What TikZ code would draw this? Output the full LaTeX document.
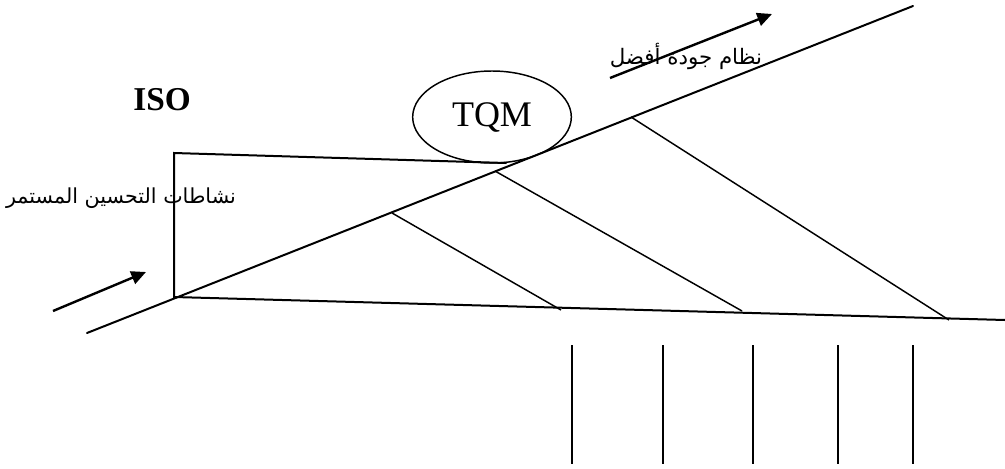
\documentclass[tikz,border=0pt]{standalone}
\usepackage{fontspec}
\setmainfont{Liberation Serif}
\newfontfamily\arabicfont[Script=Arabic]{DejaVu Sans}
\TeXXeTstate=1
\usetikzlibrary{arrows.meta,shapes.geometric}
\tikzset{
  thick line/.style={line width=1.5pt, line cap=round},
  thin line/.style={line width=1.1pt},
  flow arrow/.style={line width=1.8pt, -{Triangle[length=11pt,width=10pt]}},
  artext/.style={inner sep=0pt},
}
\begin{document}
\begin{tikzpicture}[x=0.75pt,y=-0.75pt]
\useasboundingbox (0,0) rectangle (1005,468);
% key points
\coordinate (mainA) at (87,333);
\coordinate (mainB) at (913,6);
\coordinate (boxTL) at (174,153);
\coordinate (boxBL) at (174,297);
\coordinate (boxTR) at (506,163);
\coordinate (baseR) at (1005,320);
% main incline
\draw[thick line] (mainA) -- (mainB);
% box
\draw[thick line] (boxTR) -- (boxTL) -- (boxBL) -- (baseR);
% ellipse
\node[draw, ellipse, line width=1.1pt, inner sep=0pt,
      minimum width=119pt, minimum height=69pt] (tqm) at (492,117)
      {\fontsize{27}{30}\selectfont TQM};
% diagonal braces
\coordinate (d1a) at (392,213); \coordinate (d1b) at (561,310);
\coordinate (d2a) at (495,171); \coordinate (d2b) at (742,311);
\coordinate (d3a) at (631,117); \coordinate (d3b) at (949,320);
\draw[thin line] (d1a) -- (d1b);
\draw[thin line] (d2a) -- (d2b);
\draw[thin line] (d3a) -- (d3b);
% vertical legs
\foreach \x/\n in {572/v1,663/v2,753/v3,838/v4,913/v5}{
  \coordinate (\n t) at (\x,345);
  \coordinate (\n b) at (\x,464);
  \draw[thin line] (\n t) -- (\n b);
}
% arrows
\coordinate (a1s) at (53,311); \coordinate (a1e) at (146,272);
\draw[flow arrow] (a1s) -- (a1e);
\coordinate (a2s) at (610,78); \coordinate (a2e) at (772,14);
\draw[flow arrow] (a2s) -- (a2e);
% texts
\node[font=\bfseries\fontsize{25}{28}\selectfont, inner sep=0pt] (iso) at (162,100) {ISO};
\node[artext] (act) at (121,198) {\arabicfont\fontsize{15.5}{18}\selectfont\beginR نشاطات التحسين المستمر\endR};
\node[artext] (better) at (686,56) {\arabicfont\fontsize{16}{19}\selectfont\beginR نظام جودة أفضل\endR};
\end{tikzpicture}
\end{document}
